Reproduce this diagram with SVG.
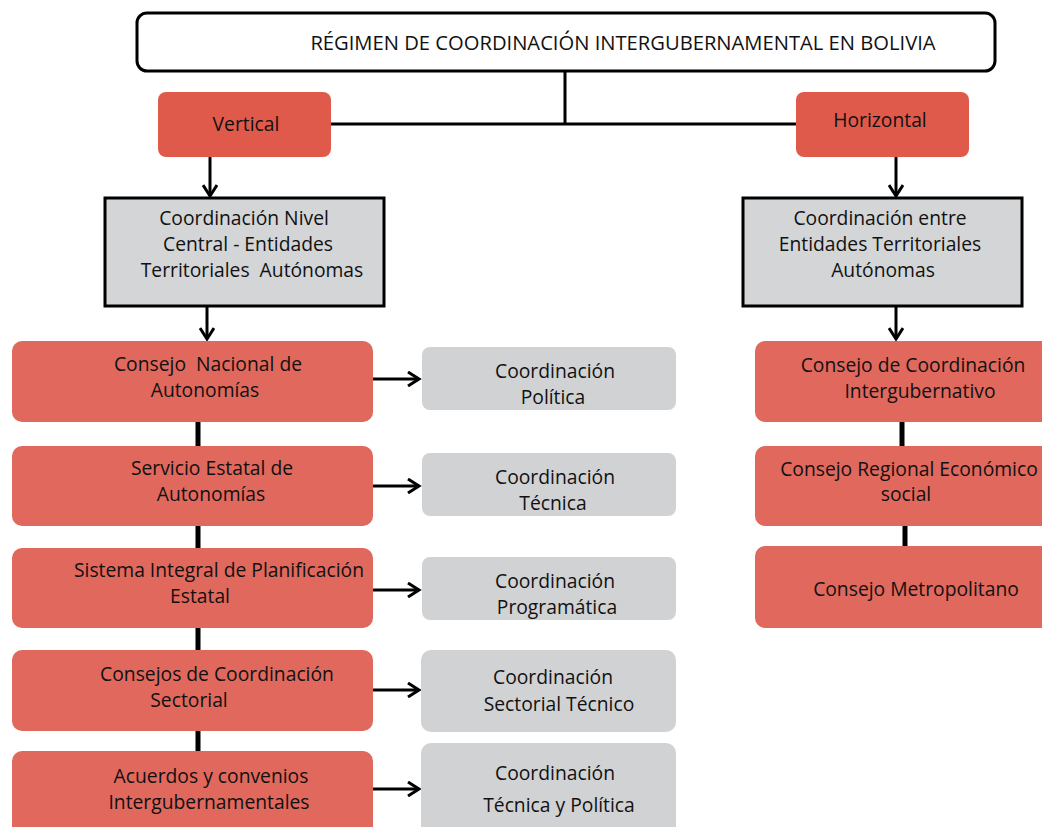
<svg xmlns="http://www.w3.org/2000/svg" width="1042" height="827" viewBox="0 0 1042 827">
<style>
text{font-family:"Open Sans","Liberation Sans",sans-serif;font-size:19.3px;fill:#111;text-anchor:middle;white-space:pre}
.red{fill:#e0685d}
.red2{fill:#e05a4b}
.grey{fill:#d1d2d4}
.greyb{fill:#d4d5d7;stroke:#000;stroke-width:3}
.ln{stroke:#000;stroke-width:3;fill:none}
.lk{stroke:#000;stroke-width:5;fill:none}
</style>
<defs>
<marker id="ah" markerWidth="16" markerHeight="16" refX="13" refY="8" orient="auto" markerUnits="userSpaceOnUse">
<path d="M2,1 L13,8 L2,15" fill="none" stroke="#000" stroke-width="3"/>
</marker>
</defs>
<g id="connectors">
<path class="ln" d="M565,72 V124 M331,124 H797"/>
<path class="ln" d="M210,157 V196" marker-end="url(#ah)"/>
<path class="ln" d="M896,157 V196" marker-end="url(#ah)"/>
<path class="ln" d="M207,306 V339" marker-end="url(#ah)"/>
<path class="ln" d="M896,306 V339" marker-end="url(#ah)"/>
<path class="lk" d="M198,422 V446 M198,526 V548 M198,628 V650 M198,731 V751"/>
<path class="lk" d="M902,422 V446 M905,526 V546"/>
<path class="ln" d="M373,379 H419" marker-end="url(#ah)"/>
<path class="ln" d="M373,486 H419" marker-end="url(#ah)"/>
<path class="ln" d="M373,590 H419" marker-end="url(#ah)"/>
<path class="ln" d="M373,690 H419" marker-end="url(#ah)"/>
<path class="ln" d="M373,789 H419" marker-end="url(#ah)"/>
</g>
<g id="title">
<rect x="137" y="13" width="858" height="58" rx="10" fill="#fff" stroke="#000" stroke-width="3"/>
<text x="623" y="50" style="font-size:20.2px">RÉGIMEN DE COORDINACIÓN INTERGUBERNAMENTAL EN BOLIVIA</text>
</g>
<g id="vertical">
<rect class="red2" x="158" y="92" width="173" height="65" rx="8"/>
<text x="246" y="131">Vertical</text>
</g>
<g id="horizontal">
<rect class="red2" x="796" y="92" width="173" height="65" rx="8"/>
<text x="880" y="127">Horizontal</text>
</g>
<g id="nivel-central">
<rect class="greyb" x="105" y="198" width="279" height="108"/>
<text x="244" y="225">Coordinación Nivel</text>
<text x="248" y="251">Central - Entidades</text>
<text x="252" y="277">Territoriales  Autónomas</text>
</g>
<g id="entre-entidades">
<rect class="greyb" x="743" y="198" width="279" height="108"/>
<text x="880" y="225">Coordinación entre</text>
<text x="880" y="251">Entidades Territoriales</text>
<text x="883" y="277">Autónomas</text>
</g>
<g id="consejo-nacional">
<rect class="red" x="12" y="341" width="361" height="81" rx="10"/>
<text x="208" y="371">Consejo  Nacional de</text>
<text x="205" y="397">Autonomías</text>
</g>
<g id="servicio-estatal">
<rect class="red" x="12" y="446" width="361" height="80" rx="10"/>
<text x="212" y="475">Servicio Estatal de</text>
<text x="211" y="501">Autonomías</text>
</g>
<g id="sistema-integral">
<rect class="red" x="12" y="548" width="361" height="80" rx="10"/>
<text x="219" y="577">Sistema Integral de Planificación</text>
<text x="200" y="603">Estatal</text>
</g>
<g id="consejos-sectorial">
<rect class="red" x="12" y="650" width="361" height="81" rx="10"/>
<text x="217" y="681">Consejos de Coordinación</text>
<text x="189" y="707">Sectorial</text>
</g>
<g id="acuerdos">
<rect class="red" x="12" y="751" width="361" height="90" rx="10"/>
<text x="211" y="783">Acuerdos y convenios</text>
<text x="209" y="809">Intergubernamentales</text>
</g>
<g id="coord-politica">
<rect class="grey" x="422" y="347" width="254" height="63" rx="8"/>
<text x="555" y="378">Coordinación</text>
<text x="553" y="404">Política</text>
</g>
<g id="coord-tecnica">
<rect class="grey" x="422" y="453" width="254" height="63" rx="8"/>
<text x="555" y="484">Coordinación</text>
<text x="553" y="510">Técnica</text>
</g>
<g id="coord-programatica">
<rect class="grey" x="422" y="557" width="254" height="63" rx="8"/>
<text x="555" y="588">Coordinación</text>
<text x="557" y="614">Programática</text>
</g>
<g id="coord-sectorial">
<rect class="grey" x="421" y="650" width="255" height="82" rx="10"/>
<text x="553" y="684">Coordinación</text>
<text x="559" y="711">Sectorial Técnico</text>
</g>
<g id="coord-tecnica-politica">
<rect class="grey" x="421" y="743" width="255" height="95" rx="10"/>
<text x="555" y="780">Coordinación</text>
<text x="559" y="812">Técnica y Política</text>
</g>
<g id="consejo-coordinacion">
<rect class="red" x="755" y="341" width="300" height="81" rx="10"/>
<text x="913" y="372">Consejo de Coordinación</text>
<text x="920" y="398">Intergubernativo</text>
</g>
<g id="consejo-regional">
<rect class="red" x="755" y="446" width="300" height="80" rx="10"/>
<text x="909" y="476">Consejo Regional Económico</text>
<text x="906" y="501">social</text>
</g>
<g id="consejo-metropolitano">
<rect class="red" x="755" y="546" width="300" height="82" rx="10"/>
<text x="916" y="596">Consejo Metropolitano</text>
</g>
</svg>
